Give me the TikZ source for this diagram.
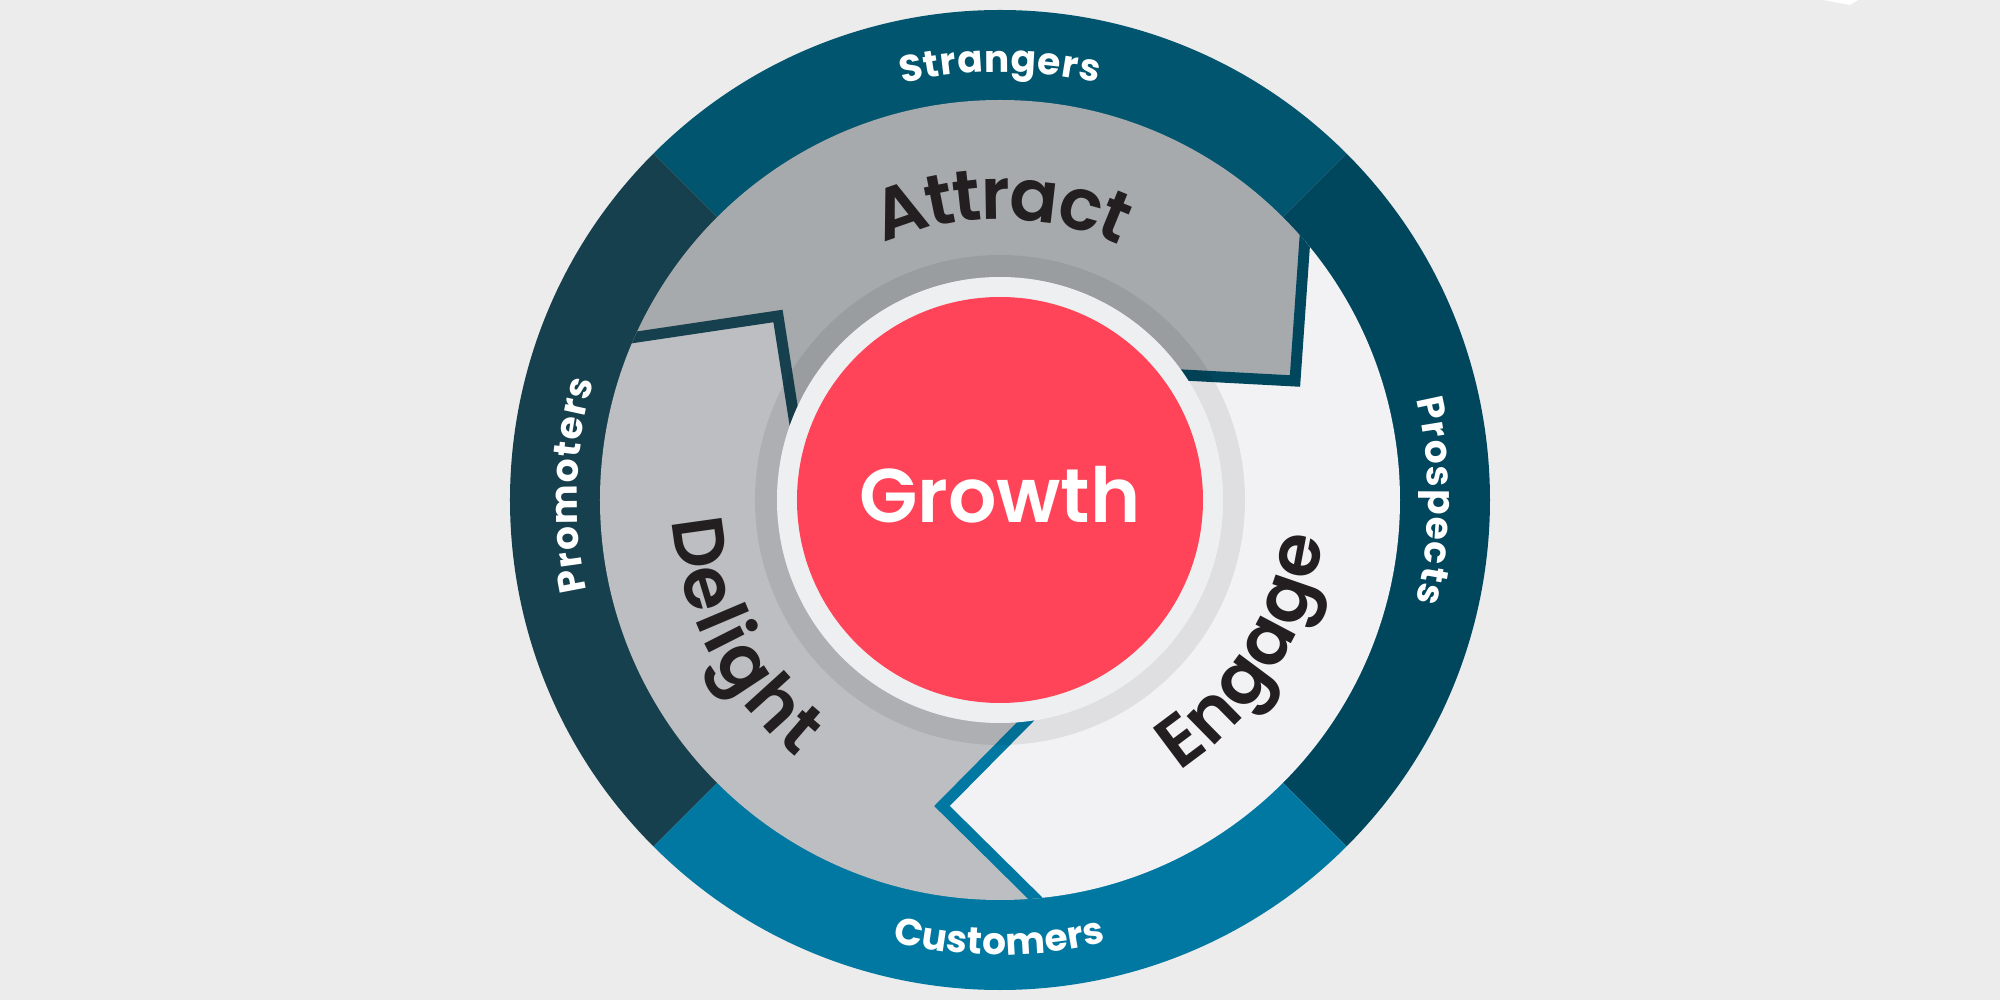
\documentclass[tikz,border=0pt]{standalone}
\usepackage{fontspec}
\setmainfont{Poppins}
\IfFontExistsTF{Poppins SemiBold}{\newfontfamily\semifam{Poppins SemiBold}}{\newfontfamily\semifam{Poppins Bold}}
\newfontfamily\boldfam{Poppins Bold}
\usetikzlibrary{calc}

\definecolor{bg}{HTML}{ECECEC}
\definecolor{ringtop}{HTML}{02556E}
\definecolor{ringright}{HTML}{00475E}
\definecolor{ringbottom}{HTML}{0078A2}
\definecolor{ringleft}{HTML}{17404E}
\definecolor{attractc}{HTML}{A7AAAD}
\definecolor{engagec}{HTML}{F2F2F4}
\definecolor{delightc}{HTML}{BDBEC1}
\definecolor{whitering}{HTML}{EEEFF1}
\definecolor{growthc}{HTML}{FF4459}
\definecolor{ink}{HTML}{231F20}

\newcommand\outerfont{\boldfam\fontsize{37.5}{42}\selectfont}
\newcommand\innerfont{\semifam\fontsize{72}{80}\selectfont}

\newsavebox\albox
% measuring (outside the picture): #1 id, #2 font, #3 baseline radius, #4 span (deg), #5 letters
\newcommand\alprep[5]{%
  \gdef\alprefix{}\gdef\alcount{0}%
  \foreach \ch in {#5} {\xdef\alprefix{\alprefix\ch}\pgfmathtruncatemacro\altmp{\alcount+1}\xdef\alcount{\altmp}}%
  \sbox\albox{#2\alprefix}%
  \pgfmathsetmacro\altotal{\the\wd\albox}%
  \pgfmathsetmacro\alk{180/(pi*#3)}%
  \pgfmathsetmacro\altot{#4/\alk}%
  \pgfmathsetmacro\altrack{(\altot-\altotal)/(\alcount-1)}%
  \gdef\alprefix{}\gdef\alprev{0}\gdef\allist{}%
  \foreach \ch [count=\ali] in {#5} {%
    \xdef\alprefix{\alprefix\ch}%
    \sbox\albox{#2\alprefix}%
    \pgfmathsetmacro\alend{\the\wd\albox}%
    \pgfmathsetmacro\aloff{((\alprev+\alend)/2 + \altrack*(\ali-1) - \altot/2)*\alk}%
    \ifnum\ali=1 \xdef\allist{\ch/\aloff}\else\xdef\allist{\allist,\ch/\aloff}\fi
    \xdef\alprev{\alend}%
  }%
  \expandafter\global\expandafter\let\csname al@#1\endcsname\allist
}
% drawing (inside the picture): #1 id, #2 font+colour, #3 radius, #4 centre angle, #5 direction (+1 ccw, -1 cw)
\newcommand\aldraw[5]{%
  \expandafter\let\expandafter\altmplist\csname al@#1\endcsname
  \foreach \ch/\off [count=\ali] in \altmplist {%
    \pgfmathsetmacro\alang{#4 + (#5)*(\off)}%
    \pgfmathsetmacro\alrot{\alang + (#5)*90}%
    \node[anchor=base, inner sep=0pt, rotate=\alrot, font={#2}] (#1-\ali) at (\alang:#3pt) {\ch};
  }%
}

\begin{document}
\alprep{str}{\outerfont}{428}{26.4}{S,t,r,a,n,g,e,r,s}%
\alprep{pro}{\outerfont}{428}{27.4}{P,r,o,s,p,e,c,t,s}%
\alprep{cus}{\outerfont}{455}{27.2}{C,u,s,t,o,m,e,r,s}%
\alprep{prm}{\outerfont}{423}{28.7}{P,r,o,m,o,t,e,r,s}%
\alprep{att}{\innerfont}{281}{49.4}{A,t,t,r,a,c,t}%
\alprep{eng}{\innerfont}{325}{49.9}{E,n,g,a,g,e}%
\alprep{del}{\innerfont}{328}{48.2}{D,e,l,i,g,h,t}%
\begin{tikzpicture}[x=1pt,y=1pt,
  gapline/.style={line width=11pt, line join=miter, miter limit=20}
]
\useasboundingbox (-1000,-500) rectangle (1000,500);
\fill[bg] (-1000,-500) rectangle (1000,500);
\fill[white] (823,500) -- (858,500) -- (850,495) -- cycle;

% outer ring sectors
\fill[ringtop]    (0,0) -- (45:490pt)  arc[start angle=45,  end angle=135, radius=490pt] -- cycle;
\fill[ringright]  (0,0) -- (-45:490pt) arc[start angle=-45, end angle=45,  radius=490pt] -- cycle;
\fill[ringbottom] (0,0) -- (-135:490pt) arc[start angle=-135, end angle=-45, radius=490pt] -- cycle;
\fill[ringleft]   (0,0) -- (135:490pt) arc[start angle=135, end angle=225, radius=490pt] -- cycle;

% boundary geometry
\coordinate (O1) at (305,262);  \coordinate (T1) at (295,119);  \coordinate (I1) at (183,125);
\coordinate (O2) at (30,-393);  \coordinate (T2) at (-58,-306); \coordinate (I2) at (27,-220);
\coordinate (O3) at (-363,163); \coordinate (T3) at (-222,184); \coordinate (I3) at (-206,82);
\coordinate (O1e) at ($(T1)!1.3!(O1)$); \coordinate (I1e) at ($(T1)!1.25!(I1)$);
\coordinate (O2e) at ($(T2)!1.3!(O2)$); \coordinate (I2e) at ($(T2)!1.25!(I2)$);
\coordinate (O3e) at ($(T3)!1.3!(O3)$); \coordinate (I3e) at ($(T3)!1.25!(I3)$);

\begin{scope}
  \clip (0,0) circle[radius=400pt];
  \fill[attractc] (0,0) -- (I3e) -- (T3) -- (O3e) -- (155:600pt) -- (90:600pt) -- (42:600pt)
        -- (O1e) -- (T1) -- (I1e) -- cycle;
  \fill[engagec] (0,0) -- (I1e) -- (T1) -- (O1e) -- (44:600pt) -- (-20:600pt) -- (-84:600pt)
        -- (O2e) -- (T2) -- (I2e) -- cycle;
  \fill[delightc] (0,0) -- (I2e) -- (T2) -- (O2e) -- (275:600pt) -- (215:600pt) -- (158:600pt)
        -- (O3e) -- (T3) -- (I3e) -- cycle;
  \draw[gapline, ringright]  (I1e) -- (T1) -- (O1e);
  \draw[gapline, ringbottom] (I2e) -- (T2) -- (O2e);
  \draw[gapline, ringleft]   (I3e) -- (T3) -- (O3e);
\end{scope}

% hub
\fill[black, fill opacity=0.075, even odd rule] (0,0) circle[radius=245pt] (0,0) circle[radius=223pt];
\fill[whitering] (0,0) circle[radius=223pt];
\fill[growthc] (0,0) circle[radius=203pt];
\node[font=\semifam\fontsize{76}{86}\selectfont, text=white, anchor=base, inner sep=0pt] (growth) at (0,-23) {Growth};

% outer labels
\aldraw{str}{\outerfont\color{white}}{428}{90}{-1}
\aldraw{pro}{\outerfont\color{white}}{428}{-0.1}{-1}
\aldraw{cus}{\outerfont\color{white}}{455}{-90.1}{1}
\aldraw{prm}{\outerfont\color{white}}{423}{178}{-1}

% inner labels
\aldraw{att}{\innerfont\color{ink}}{281}{89.6}{-1}
\aldraw{eng}{\innerfont\color{ink}}{325}{-31.65}{1}
\aldraw{del}{\innerfont\color{ink}}{328}{207.6}{1}
\end{tikzpicture}
\end{document}
